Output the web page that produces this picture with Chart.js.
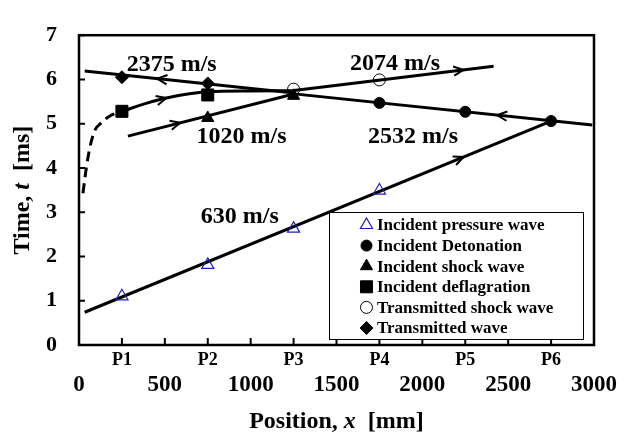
<!DOCTYPE html>
<html>
<head>
<meta charset="utf-8">
<title>Wave trajectories</title>
<script src="https://cdn.jsdelivr.net/npm/chart.js@4.4.1/dist/chart.umd.min.js"></script>
<style>
    html, body { margin: 0; padding: 0; background: #fff; }
    #wrap { width: 619px; height: 437px; }
</style>
</head>
<body>
<div id="wrap"><canvas id="grafico" width="619" height="437"></canvas></div>
<script>
/* -------------------- DADOS -------------------- */
const sensorPos = [250, 750, 1250, 1750, 2250, 2750];
const sensorLabels = ["P1", "P2", "P3", "P4", "P5", "P6"];
const xTicks = [0, 500, 1000, 1500, 2000, 2500, 3000];
const yTicks = [0, 1, 2, 3, 4, 5, 6, 7];

// arrival times at the sensors (ms)
const pressureX = [250, 750, 1250, 1750];
const pressureT = [1.10, 1.81, 2.63, 3.49];
const detonationX = [1750, 2250, 2750];
const detonationT = [5.47, 5.27, 5.06];
const shockX = [750, 1250];
const shockT = [5.13, 5.63];
const deflagX = [250, 750];
const deflagT = [5.28, 5.65];
const transShockX = [1250, 1750];
const transShockT = [5.78, 5.99];
const transX = [250, 750];
const transT = [6.05, 5.91];

// fitted trajectories
const fit630X = [33, 2750];
const fit630T = [0.74, 5.06];
const fit1020X = [285, 1240];
const fit1020T = [4.72, 5.66];
const fit2074X = [1240, 2415];
const fit2074T = [5.745, 6.30];
const fit2532X = [1240, 2990];
const fit2532T = [5.68, 4.97];
const fit2375X = [33, 1240];
const fit2375T = [6.19, 5.70];
const deflagDashX = [23, 43, 62, 91, 130, 178, 250];
const deflagDashT = [3.43, 4.01, 4.44, 4.84, 5.02, 5.17, 5.28];
const deflagCurveX = [250, 400, 509, 750, 1000, 1240];
const deflagCurveT = [5.28, 5.47, 5.58, 5.72, 5.74, 5.745];

// velocity labels
const speedLabels = ["2375 m/s", "1020 m/s", "2074 m/s", "2532 m/s", "630 m/s"];
const speedX = [540, 947, 1841, 1946, 937];
const speedT = [6.33, 4.70, 6.36, 4.70, 2.89];

// direction arrows: line, x position, direction
const arrowLine = ["l630", "l1020", "lDefl", "l2375", "l2532", "l2074"];
const arrowX = [2240, 590, 509, 455, 2435, 2240];
const arrowDir = [1, 1, 1, -1, -1, 1];

/* -------------------- GRAFICO -------------------- */
const FONT = '"Liberation Serif", "Times New Roman", serif';
Chart.defaults.font.family = FONT;
Chart.defaults.font.weight = "bold";
Chart.defaults.color = "#000";

const pts = (xs, ts) => xs.map((x, i) => ({ x: x, y: ts[i] }));

function marcador(label, xs, ts, style, radius, fill, stroke, bw) {
    return {
        label, legenda: true, data: pts(xs, ts), showLine: false,
        pointStyle: style, pointRadius: radius, pointHoverRadius: radius,
        pointBackgroundColor: fill, pointBorderColor: stroke, pointBorderWidth: bw
    };
}

function linha(id, xs, ts, extra) {
    return Object.assign({
        label: id, data: pts(xs, ts), showLine: true, pointRadius: 0,
        borderColor: "#000", borderWidth: 3, fill: false
    }, extra || {});
}

const datasets = [
    marcador("Incident pressure wave", pressureX, pressureT, "triangle", 7, "rgba(0,0,0,0)", "#2222aa", 1.2),
    marcador("Incident Detonation", detonationX, detonationT, "circle", 5.5, "#000", "#000", 1),
    marcador("Incident shock wave", shockX, shockT, "triangle", 7, "#000", "#000", 1),
    marcador("Incident deflagration", deflagX, deflagT, "rect", 8.5, "#000", "#000", 1),
    marcador("Transmitted shock wave", transShockX, transShockT, "circle", 6, "rgba(0,0,0,0)", "#000", 1),
    marcador("Transmitted wave", transX, transT, "rectRot", 6.5, "#000", "#000", 1),
    linha("l630", fit630X, fit630T),
    linha("l1020", fit1020X, fit1020T),
    linha("l2074", fit2074X, fit2074T),
    linha("l2532", fit2532X, fit2532T),
    linha("l2375", fit2375X, fit2375T),
    linha("lDeflDash", deflagDashX, deflagDashT, { borderDash: [10, 6], cubicInterpolationMode: "monotone" }),
    linha("lDefl", deflagCurveX, deflagCurveT, { cubicInterpolationMode: "monotone" })
];

function textoMisto(ctx, partes, cx, cy) {
    let total = 0;
    partes.forEach(p => {
        ctx.font = (p[1] ? "italic " : "") + "bold 24px " + FONT;
        total += ctx.measureText(p[0]).width;
    });
    let x = cx - total / 2;
    ctx.textAlign = "left";
    ctx.textBaseline = "middle";
    partes.forEach(p => {
        ctx.font = (p[1] ? "italic " : "") + "bold 24px " + FONT;
        ctx.fillText(p[0], x, cy);
        x += ctx.measureText(p[0]).width;
    });
}

const extras = {
    id: "extras",
    afterDraw(chart) {
        const { ctx, chartArea: a, scales } = chart;
        const sx = scales.x, sy = scales.y;
        ctx.save();
        ctx.fillStyle = "#000";
        ctx.strokeStyle = "#000";

        // moldura e ticks internos
        ctx.lineWidth = 2.5;
        ctx.strokeRect(a.left, a.top, a.right - a.left, a.bottom - a.top);
        ctx.lineWidth = 2;
        ctx.beginPath();
        scales.x.ticks.concat(scales.xv.ticks).forEach(t => {
            const p = sx.getPixelForValue(t.value);
            ctx.moveTo(p, a.bottom);
            ctx.lineTo(p, a.bottom - 7);
        });
        sy.ticks.forEach(t => {
            const p = sy.getPixelForValue(t.value);
            ctx.moveTo(a.left, p);
            ctx.lineTo(a.left + 6, p);
        });
        ctx.stroke();

        // setas
        ctx.lineWidth = 2;
        arrowLine.forEach((id, i) => {
            const ds = chart.data.datasets.find(d => d.label === id);
            const d = ds.data;
            let k = 0;
            while (k < d.length - 2 && d[k + 1].x < arrowX[i]) k++;
            const f = (arrowX[i] - d[k].x) / (d[k + 1].x - d[k].x);
            const t = d[k].y + f * (d[k + 1].y - d[k].y);
            const px = sx.getPixelForValue(arrowX[i]), py = sy.getPixelForValue(t);
            let dx = sx.getPixelForValue(d[k + 1].x) - sx.getPixelForValue(d[k].x);
            let dy = sy.getPixelForValue(d[k + 1].y) - sy.getPixelForValue(d[k].y);
            const len = Math.hypot(dx, dy);
            dx = dx / len * arrowDir[i];
            dy = dy / len * arrowDir[i];
            const ang = 25 * Math.PI / 180, L = 11;
            ctx.beginPath();
            [-ang, ang].forEach(s => {
                const rx = dx * Math.cos(s) - dy * Math.sin(s);
                const ry = dx * Math.sin(s) + dy * Math.cos(s);
                ctx.moveTo(px - rx * L, py - ry * L);
                ctx.lineTo(px, py);
            });
            ctx.stroke();
        });

        // rotulos de velocidade
        ctx.font = "bold 24px " + FONT;
        ctx.textAlign = "center";
        ctx.textBaseline = "middle";
        speedLabels.forEach((s, i) => {
            ctx.fillText(s, sx.getPixelForValue(speedX[i]), sy.getPixelForValue(speedT[i]));
        });

        // legenda
        const bx = a.right - 265, by = a.bottom - 133, bw = 254, bh = 127;
        ctx.fillStyle = "#fff";
        ctx.fillRect(bx, by, bw, bh);
        ctx.lineWidth = 1;
        ctx.strokeStyle = "#000";
        ctx.strokeRect(bx + 0.5, by + 0.5, bw, bh);
        chart.data.datasets.filter(d => d.legenda).forEach((d, i) => {
            const y = by + 13 + i * 20.6;
            ctx.fillStyle = d.pointBackgroundColor;
            ctx.strokeStyle = d.pointBorderColor;
            ctx.lineWidth = d.pointBorderWidth;
            Chart.helpers.drawPoint(ctx, {
                pointStyle: d.pointStyle, radius: d.pointRadius, borderWidth: d.pointBorderWidth, rotation: 0
            }, bx + 37.5, y);
            ctx.fillStyle = "#000";
            ctx.font = "bold 17px " + FONT;
            ctx.textAlign = "left";
            ctx.textBaseline = "middle";
            ctx.fillText(d.label, bx + 48, y + 1);
        });

        // titulos dos eixos
        ctx.fillStyle = "#000";
        textoMisto(ctx, [["Position, ", false], ["x", true], ["  [mm]", false]], (a.left + a.right) / 2, 422);
        ctx.translate(23, (a.top + a.bottom) / 2);
        ctx.rotate(-Math.PI / 2);
        textoMisto(ctx, [["Time, ", false], ["t", true], ["  [ms]", false]], 0, 0);
        ctx.restore();
    }
};

new Chart(document.getElementById("grafico"), {
    type: "scatter",
    data: { datasets },
    options: {
        responsive: false,
        animation: false,
        layout: { padding: { left: 0, right: 25, top: 22, bottom: 0 } },
        plugins: { legend: { display: false }, tooltip: { enabled: false } },
        scales: {
            x: {
                type: "linear", position: "bottom", weight: 0, min: 0, max: 3000,
                grid: { display: false, drawTicks: false }, border: { display: false },
                afterBuildTicks: s => { s.ticks = sensorPos.map(v => ({ value: v })); },
                ticks: { font: { size: 18 }, padding: 5, autoSkip: false, maxRotation: 0,
                         callback: (v, i) => sensorLabels[i] },
                afterFit: s => { s.height = 24; }
            },
            xv: {
                type: "linear", position: "bottom", weight: 1, min: 0, max: 3000,
                grid: { display: false, drawTicks: false }, border: { display: false },
                afterBuildTicks: s => { s.ticks = xTicks.map(v => ({ value: v })); },
                ticks: { font: { size: 23 }, padding: 2, autoSkip: false, maxRotation: 0,
                         callback: v => String(v) },
                afterFit: s => { s.height = 68; }
            },
            y: {
                type: "linear", min: 0, max: 7,
                grid: { display: false, drawTicks: false }, border: { display: false },
                afterBuildTicks: s => { s.ticks = yTicks.map(v => ({ value: v })); },
                ticks: { font: { size: 22 }, padding: 22, callback: v => String(v) },
                afterFit: s => { s.width = 79; }
            }
        }
    },
    plugins: [extras]
});
</script>
</body>
</html>
